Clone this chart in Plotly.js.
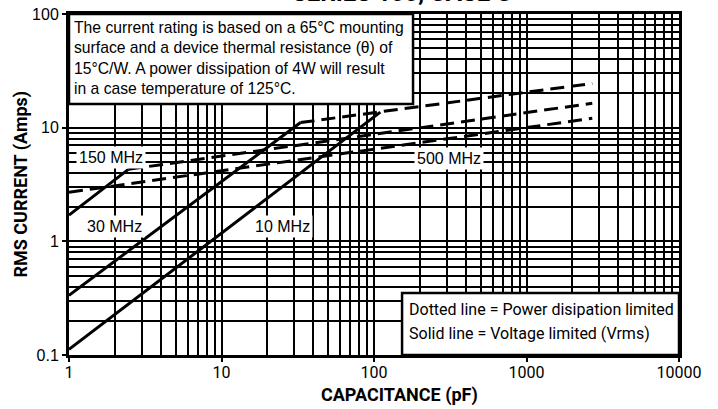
<!DOCTYPE html>
<html><head><meta charset="utf-8">
<script src="https://cdn.plot.ly/plotly-3.0.1.min.js"></script>
<style>html,body{margin:0;padding:0;background:#fff}#chart{width:718px;height:409px}</style>
</head><body><div id="chart"></div>
<script>
// Axis ticks
const xTickVals = [1, 10, 100, 1000, 10000];
const xTickText = ['1', '10', '100', '1000', '10000'];
const yTickVals = [0.1, 1, 10, 100];
const yTickText = ['0.1', '1', '10', '100'];

// Solid lines = voltage limited (capacitance pF, current A)
const solid150Cap = [1, 2.45];
const solid150Amps = [1.7, 4.3];
const solid30Cap = [1, 33];
const solid30Amps = [0.335, 11.1];
const solid10Cap = [1, 110];
const solid10Amps = [0.112, 13.7];

// Dashed lines = power dissipation limited
const dash30Cap = [33, 2700];
const dash30Amps = [11.1, 24.5];
const dash150Cap = [2.45, 2700];
const dash150Amps = [4.3, 16.4];
const dash500Cap = [1, 2700];
const dash500Amps = [2.7, 12.1];

const solidLine = {color: '#000', width: 3};
const dashLine = {color: '#000', width: 3, dash: '14px,7px'};

const traces = [
  {x: solid150Cap, y: solid150Amps, line: solidLine},
  {x: solid30Cap, y: solid30Amps, line: solidLine},
  {x: solid10Cap, y: solid10Amps, line: solidLine},
  {x: dash30Cap, y: dash30Amps, line: dashLine},
  {x: dash150Cap, y: dash150Amps, line: dashLine},
  {x: dash500Cap, y: dash500Amps, line: dashLine}
].map(t => Object.assign({type: 'scatter', mode: 'lines', hoverinfo: 'skip', showlegend: false}, t));

const gridCommon = {
  type: 'log',
  showgrid: true, gridcolor: '#000', gridwidth: 2,
  showline: true, linecolor: '#000', linewidth: 3, mirror: true,
  ticks: 'outside', ticklen: 4, tickwidth: 2, tickcolor: '#000',
  zeroline: false, fixedrange: true,
  minor: {dtick: 'D1', showgrid: true, gridcolor: '#000', gridwidth: 2, ticks: ''}
};

const labelFont = {family: 'Liberation Sans, Arial, sans-serif', size: 16, color: '#000'};

const layout = {
  width: 718, height: 409,
  margin: {l: 69, r: 39, t: 14, b: 54, pad: 0},
  paper_bgcolor: '#fff', plot_bgcolor: '#fff',
  showlegend: false,
  xaxis: Object.assign({}, gridCommon, {
    range: [0, 4], tickmode: 'array', tickvals: xTickVals, ticktext: xTickText,
    ticklabelstandoff: -3,
    tickfont: {family: 'Roboto, sans-serif', size: 16, color: '#000'}
  }),
  yaxis: Object.assign({}, gridCommon, {
    range: [-1, 2], tickmode: 'array', tickvals: yTickVals, ticktext: yTickText,
    tickfont: {family: 'Liberation Sans, Arial, sans-serif', size: 16, color: '#000'}
  }),
  shapes: [
    {type: 'rect', xref: 'paper', yref: 'paper', x0: 0, x1: 0.564, y0: 0.736, y1: 1,
     fillcolor: '#fff', line: {color: '#000', width: 2.5}, layer: 'above'},
    {type: 'rect', xref: 'paper', yref: 'paper', x0: 0.546, x1: 1, y0: 0, y1: 0.182,
     fillcolor: '#fff', line: {color: '#000', width: 2.5}, layer: 'above'}
  ],
  annotations: [
    {text: 'SERIES 100, CASE C', xref: 'paper', yref: 'paper', x: 0.546, y: 1,
     xanchor: 'center', yanchor: 'bottom', yshift: 5, showarrow: false,
     font: {family: 'Roboto, sans-serif', size: 24, color: '#000', weight: 'bold'}},
    {text: 'The current rating is based on a 65°C mounting<br>surface and a device thermal resistance (θ) of<br>15°C/W. A power dissipation of 4W will result<br>in a case temperature of 125°C.',
     xref: 'paper', yref: 'paper', x: 0, y: 1, xanchor: 'left', yanchor: 'top', align: 'left',
     xshift: 3, yshift: -3, showarrow: false,
     font: {family: 'Liberation Sans, Arial, sans-serif', size: 15.7, color: '#000'}},
    {text: 'Dotted line = Power disipation limited', xref: 'paper', yref: 'paper',
     x: 0.554, y: 0.132, xanchor: 'left', yanchor: 'middle', showarrow: false,
     font: {family: 'Roboto, sans-serif', size: 16, color: '#000'}},
    {text: 'Solid line = Voltage limited (Vrms)', xref: 'paper', yref: 'paper',
     x: 0.554, y: 0.064, xanchor: 'left', yanchor: 'middle', showarrow: false,
     font: {family: 'Roboto, sans-serif', size: 16, color: '#000'}},
    {text: '150 MHz', xref: 'paper', yref: 'paper', x: 0.0689, y: 0.5806, showarrow: false,
     xanchor: 'center', yanchor: 'middle', bgcolor: '#fff', borderpad: 2, font: labelFont},
    {text: '30 MHz', xref: 'paper', yref: 'paper', x: 0.0754, y: 0.3754, showarrow: false,
     xanchor: 'center', yanchor: 'middle', bgcolor: '#fff', borderpad: 2, font: labelFont},
    {text: '10 MHz', xref: 'paper', yref: 'paper', x: 0.3492, y: 0.3754, showarrow: false,
     xanchor: 'center', yanchor: 'middle', bgcolor: '#fff', borderpad: 2, font: labelFont},
    {text: '500 MHz', xref: 'paper', yref: 'paper', x: 0.6230, y: 0.5777, showarrow: false,
     xanchor: 'center', yanchor: 'middle', bgcolor: '#fff', borderpad: 2, font: labelFont},
    {text: 'CAPACITANCE (pF)', xref: 'paper', yref: 'paper', x: 0.541, y: 0, yshift: -40,
     xanchor: 'center', yanchor: 'middle', showarrow: false,
     font: {family: 'Roboto, sans-serif', size: 18, color: '#000', weight: 'bold'}},
    {text: 'RMS CURRENT (Amps)', xref: 'paper', yref: 'paper', x: 0, y: 0.5, xshift: -49,
     xanchor: 'center', yanchor: 'middle', textangle: -90, showarrow: false,
     font: {family: 'Roboto, sans-serif', size: 18, color: '#000', weight: 'bold'}}
  ]
};

Plotly.newPlot('chart', traces, layout, {staticPlot: true, displayModeBar: false});
</script>
</body></html>
